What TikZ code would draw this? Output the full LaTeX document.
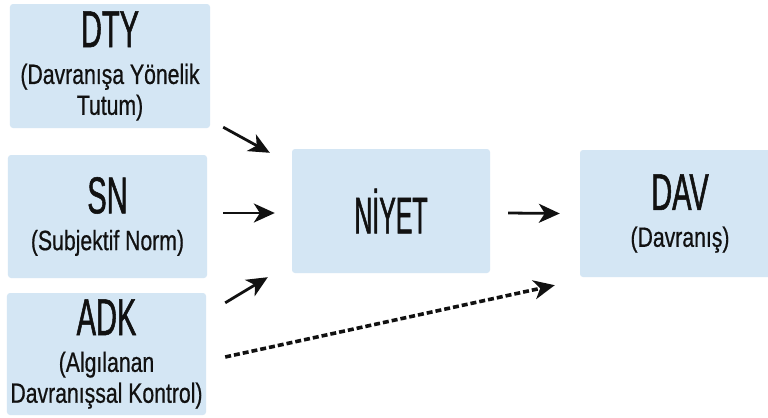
\documentclass[tikz,border=0pt]{standalone}
\usepackage{fontspec}
\newfontfamily\headfont[FakeStretch=0.56,FakeBold=1]{Liberation Sans}
\newfontfamily\narrowhead[FakeStretch=0.48,FakeBold=1]{Liberation Sans}
\newfontfamily\subfont[FakeStretch=0.76,FakeBold=0.6]{Liberation Sans}
\usetikzlibrary{arrows.meta,positioning}
\definecolor{boxblue}{HTML}{D4E6F4}
\definecolor{ink}{HTML}{111111}
\newcommand{\construct}[2]{{\headfont\fontsize{52}{52}\selectfont #1}\\[6pt]#2}
\tikzset{
  factor/.style={rectangle,rounded corners=3pt,fill=boxblue,text=ink,align=center,inner sep=0pt,font=\subfont\fontsize{28}{31}\selectfont},
  tip/.tip={Stealth[length=21pt,width=19pt,inset=6pt]},
  arr/.style={-tip,ink,line width=2.8pt},
  dotarr/.style={arr,line width=3.6pt,dash pattern=on 6pt off 3pt}
}
\begin{document}
\begin{tikzpicture}[x=1bp,y=-1bp]
\clip (0,0) rectangle (768,417);
\fill[white] (0,0) rectangle (768,417);
\node[factor,minimum width=200bp,minimum height=124bp] (dty) at (110,66) {\construct{DTY}{(Davranışa Yönelik\\Tutum)}};
\node[factor,minimum width=199bp,minimum height=123bp] (sn) at (107.5,216.5) {\construct{SN}{(Subjektif Norm)}};
\node[factor,minimum width=199bp,minimum height=122bp] (adk) at (106.5,354) {\construct{ADK}{(Algılanan\\Davranışsal Kontrol)}};
\node[factor,minimum width=198bp,minimum height=124bp,font=\narrowhead\fontsize{52}{52}\selectfont] (niyet) at (391,211) {NİYET};
\node[factor,minimum width=200bp,minimum height=127bp] (dav) at (680,213.5) {\construct{DAV}{(Davranış)}};
% arrows into the intention box
\draw[arr] ([shift={(13,-1)}]dty.south east) -- ([shift={(-22,4)}]niyet.north west);
\draw[arr] ([shift={(16,-3.5)}]sn.east) -- ([shift={(-17,2)}]niyet.west);
\draw[arr] ([shift={(19,10)}]adk.north east) -- ([shift={(-24,4)}]niyet.south west);
\draw[arr] ([shift={(18,2)}]niyet.east) -- ([shift={(-20,0)}]dav.west);
\draw[dotarr] ([shift={(19,3)}]adk.east) -- ([shift={(-25,8)}]dav.south west);
\end{tikzpicture}
\end{document}
